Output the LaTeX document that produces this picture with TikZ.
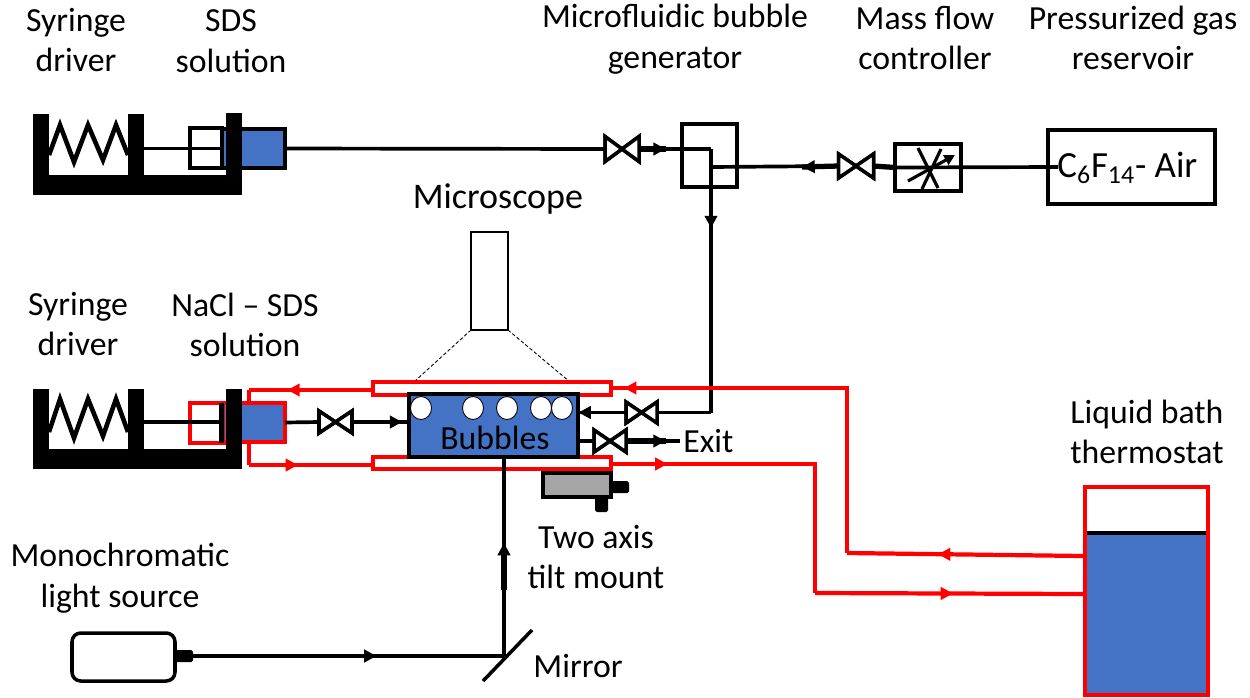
\documentclass[tikz,border=0pt]{standalone}
\usepackage{fontspec}
\setmainfont{Carlito}
\usetikzlibrary{arrows.meta,decorations.markings,shapes.geometric}
\definecolor{fillblue}{HTML}{4472C4}
\definecolor{tiltgrey}{HTML}{A5A5A5}
\definecolor{redline}{HTML}{FF0000}
\tikzset{
  x=0.02cm,y=-0.02cm,
  sz/.style 2 args={minimum width=(#1)*0.02cm,minimum height=(#2)*0.02cm,inner sep=0pt,outer sep=0pt},
  lab/.style={font=\fontsize{19.2}{23.2}\selectfont,align=center,inner sep=0pt,text=black},
  wire/.style={draw=black,line width=2.1pt},
  fatwire/.style={draw=black,line width=3pt},
  rwire/.style={draw=redline,line width=2.4pt},
  frame/.style={fill=black,draw=none},
  spring/.style={draw=black,line width=2.6pt,line join=miter},
  kbox/.style={draw=black,line width=1.8pt,fill=white},
  rbox/.style={draw=redline,line width=2pt,fill=white},
  bubble/.style={draw=black,line width=0.5pt,fill=white,inner sep=0pt,outer sep=0pt},
  valveline/.style={draw=black,line width=2pt,line join=miter,fill=white},
  tipat/.style={postaction={decorate},decoration={markings,mark=at position #1 with {\arrow{Triangle[length=7pt,width=7pt]}}}},
}
\newcommand{\valve}[5]{%
  \node[sz={#4}{#5}] (#1) at (#2,#3) {};
  \path[valveline] (#1.north west) -- (#1.south east) -- (#1.north east) -- (#1.south west) -- cycle;
}
\newcommand{\syringebody}[3]{%
  \node[frame,sz={16}{#3}] (#1a) at (41,#2+#3/2) {};
  \node[frame,sz={16}{#3}] (#1c) at (234,#2+#3/2) {};
  \node[frame,sz={209}{20}] (#1b) at (137.5,#2+#3-10) {};
  \node[frame,sz={16}{#3-20}] (#1m) at (136,#2+#3/2-10) {};
}
\begin{document}
\begin{tikzpicture}
\useasboundingbox (0,0) rectangle (1250,697);

% labels
\node[lab] (tA) at (76,40) {Syringe\\driver};
\node[lab] (tB) at (231,41) {SDS\\solution};
\node[lab] (tC) at (675,39) {Microfluidic bubble\\generator};
\node[lab] (tD) at (925,38) {Mass flow\\controller};
\node[lab] (tE) at (1133,38) {Pressurized gas\\reservoir};
\node[lab,font=\fontsize{20.5}{24}\selectfont] (tF) at (498,199) {Microscope};
\node[lab] (tG) at (78,324) {Syringe\\driver};
\node[lab] (tH) at (245,325) {NaCl – SDS\\solution};
\node[lab] (tI) at (1147,432) {Liquid bath\\thermostat};
\node[lab] (tJ) at (596,557) {Two axis\\tilt mount};
\node[lab] (tK) at (120,578) {Monochromatic\\light source};
\node[lab] (tL) at (578,666) {Mirror};

% upper syringe
\syringebody{s}{114}{81}
\node[kbox,sz={32}{40}] (plunger1) at (206,148) {};
\node[draw=black,line width=2pt,fill=fillblue,sz={63}{39}] (barrel1) at (253.5,148.5) {};
\node[frame,sz={16}{82}] (sc2) at (234,154) {};
\path[spring] (49,155) -- (60,125) -- (74,162) -- (88,125) -- (103,160) -- (116,125) -- (128,155);
\draw[wire] (sm.east |- barrel1) -- (plunger1.east |- barrel1);

% generator, valves, mass flow controller, reservoir
\node[kbox,sz={55}{63}] (gen) at (709.5,155.5) {};
\node[kbox,sz={66}{47}] (mfc) at (928,167.5) {};
\node[kbox,sz={167}{74}] (res) at (1131.5,167) {};
\valve{v1}{622}{149}{34}{25}
\valve{v2}{856}{166}{35}{24}
\coordinate (j1) at (711,149);
\coordinate (j2) at (711,412.5);
\coordinate (j3) at (711,167);
\coordinate (stub) at (1058,167);
\coordinate (v1s) at (666,149);
\coordinate (v2s) at (802,167);
\draw[wire] (barrel1.east) -- (v1.west);
\draw[wire] (v1.east) -- (j1);
\draw[fatwire,tipat={0.99}] (v1.east) -- (v1s);
\draw[line width=2.6pt] (j1) -- (711,234);
\draw[wire,tipat={0.3}] (j1) -- (j2);
\draw[wire] (j3) -- (v2.west);
\draw[fatwire,tipat={0.99}] (v2.west) -- (v2s);
\draw[fatwire] (v2.east) -- (mfc.west);
\draw[wire] (mfc.west) -- (stub);
\draw[line width=1.8pt] (918,148) -- (938,188);
\draw[line width=1.8pt] (941,149) -- (922,189);
\draw[line width=1.8pt,-{Triangle[length=6pt,width=6pt]}] (908,181) -- (955,155);
\path[valveline] (v1.north west) -- (v1.south east) -- (v1.north east) -- (v1.south west) -- cycle;
\path[valveline] (v2.north west) -- (v2.south east) -- (v2.north east) -- (v2.south west) -- cycle;
\node[lab,anchor=west,font=\fontsize{21}{24}\selectfont] (gas) at (1057,168) {$\mathrm{C_6F_{14}}$- Air};

% microscope
\node[kbox,line width=1.5pt,sz={37}{98}] (scope) at (489.5,281) {};
\coordinate (d1) at (415,381);
\coordinate (d2) at (570,382);
\draw[line width=0.5pt,dash pattern=on 2pt off 1.2pt] (scope.south west) -- (d1);
\draw[line width=0.5pt,dash pattern=on 2pt off 1.2pt] (scope.south east) -- (d2);

% lower syringe
\syringebody{u}{389}{80}
\path[spring] (49,432) -- (60,399) -- (74,438) -- (88,399) -- (103,436) -- (116,399) -- (128,432);
\node[rbox,sz={36}{40}] (plunger2) at (208,423) {};
\coordinate (rodend) at (221,422);
\draw[wire] (um.east |- rodend) -- (rodend);
\node[draw=redline,line width=2pt,fill=fillblue,sz={62}{39}] (barrel2) at (254,422.5) {};
\node[frame,sz={5}{40}] (pbar) at (221,423) {};
\node[frame,sz={16}{80}] (uc2) at (234,429) {};

% red circuit
\node[rbox,sz={238}{13}] (jt) at (492,388.5) {};
\node[rbox,sz={238}{12}] (jb) at (492,463) {};
\node[draw=redline,line width=2.8pt,fill=white,sz={123}{208}] (tank) at (1146.5,591) {};
\fill[fillblue] (1087,533) rectangle (1206,693);
\draw[line width=2.4pt] (1087,533) -- (1206,533);
\coordinate (a1) at (249,390);
\coordinate (a2) at (249,403);
\coordinate (a3) at (249,465);
\coordinate (a4) at (249,443);
\coordinate (b1) at (847,388);
\coordinate (b2) at (847,553);
\coordinate (b3) at (1084,556);
\coordinate (c1) at (815,464);
\coordinate (c2) at (815,593);
\coordinate (c3) at (1084,594);
\coordinate (b0) at (623,388);
\coordinate (c0) at (668,464);
\draw[rwire,tipat={0.69}] (jt.west |- a1) -- (a1);
\draw[rwire] (a1) -- (a2);
\draw[rwire] (a4) -- (a3);
\draw[rwire,tipat={0.395}] (a3) -- (jb.west |- a3);
\draw[rwire] (jt.east |- b1) -- (b1) -- (b2);
\draw[rwire,tipat={0.995}] (b1) -- (b0);
\draw[rwire,tipat={0.616}] (b3) -- (b2);
\draw[rwire] (jb.east |- c1) -- (c1) -- (c2);
\draw[rwire,tipat={0.99}] (jb.east |- c1) -- (c0);
\draw[rwire,tipat={0.513}] (c2) -- (c3);

% cell
\node[draw=black,line width=2pt,fill=fillblue,sz={169}{63}] (cell) at (493.5,425.5) {};
\node[lab] (tBub) at (495,438) {Bubbles};
\foreach \n/\cx in {1/421,2/473,3/507,4/541,5/562}{
  \node[bubble,ellipse,sz={21}{23}] (bb\n) at (\cx,408) {};
}
\valve{v3}{335.5}{422}{33}{22}
\valve{v4}{641.5}{412.5}{31}{21}
\valve{v5}{610}{441}{32}{22}
\coordinate (exitpt) at (680,441);
\draw[wire] (barrel2.east) -- (v3.west);
\draw[wire,tipat={0.88}] (v3.east) -- (cell.west |- v3);
\draw[wire] (j2) -- (v4.east);
\draw[wire,tipat={0.99}] (v4.west) -- (cell.east |- v4);
\draw[wire] (cell.east |- v5) -- (v5.west);
\draw[wire] (v5.east) -- (exitpt);
\draw[fatwire,tipat={0.99}] (v5.east) -- (666,441);
\path[valveline] (v3.north west) -- (v3.south east) -- (v3.north east) -- (v3.south west) -- cycle;
\path[valveline] (v4.north west) -- (v4.south east) -- (v4.north east) -- (v4.south west) -- cycle;
\path[valveline] (v5.north west) -- (v5.south east) -- (v5.north east) -- (v5.south west) -- cycle;
\node[lab,anchor=west] (tExit) at (683,441) {Exit};

% tilt mount
\node[draw=black,line width=1.8pt,fill=tiltgrey,sz={68}{24}] (tilt) at (577,485) {};
\node[frame,rounded corners=1pt,sz={18}{12}] (knob1) at (620,487) {};
\node[frame,rounded corners=1pt,sz={13}{15}] (knob2) at (601.5,504.5) {};

% light path
\node[draw=black,line width=2pt,fill=white,rounded corners=5pt,sz={103}{48}] (lamp) at (123.5,657) {};
\node[frame,rounded corners=1pt,sz={18}{12}] (lampjack) at (184,656) {};
\coordinate (mir1) at (483,681);
\coordinate (mir2) at (532,630);
\coordinate (mirhit) at (504,656);
\coordinate (lightfat) at (504,590);
\draw[wire,tipat={0.59}] (lampjack.east) -- (mirhit);
\draw[wire,tipat={0.568}] (mirhit) -- (cell.south -| mirhit);
\draw[fatwire] (lightfat) -- (504,550);
\draw[line width=2pt] (mir1) -- (mir2);
\end{tikzpicture}
\end{document}
